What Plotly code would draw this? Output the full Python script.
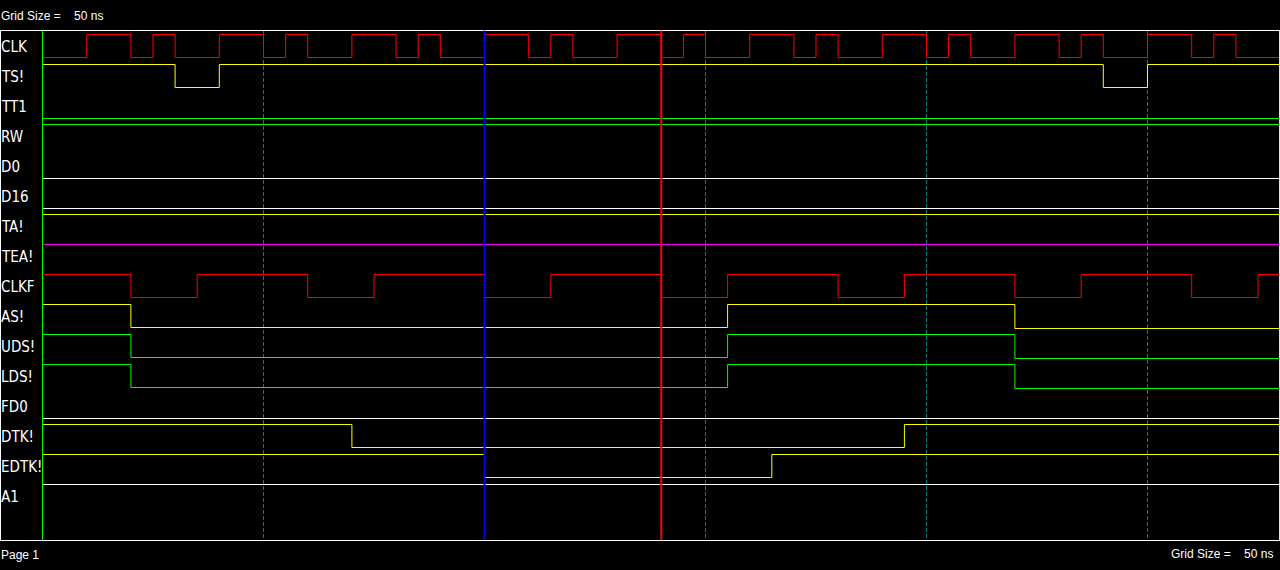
import plotly.graph_objects as go

# ---------------- data ----------------
signal_names = ["CLK", "TS!", "TT1", "RW", "D0", "D16", "TA!", "TEA!", "CLKF",
                "AS!", "UDS!", "LDS!", "FD0", "DTK!", "EDTK!", "A1"]

# change times (ns) and the state that starts at each time
# H = high, L = low, Z = low/undriven (drawn one pixel lower)
clk_t = [0, 10, 20, 25, 30, 40, 50, 55, 60, 70, 80, 85, 90, 100, 110, 115, 120, 130,
         140, 145, 150, 160, 170, 175, 180, 190, 200, 205, 210, 220, 230, 235, 240,
         250, 260, 265, 270]
clk_s = ["L", "H", "L", "H", "L", "H", "L", "H", "L", "H", "L", "H", "L", "H", "L", "H",
         "L", "H", "L", "H", "L", "H", "L", "H", "L", "H", "L", "H", "L", "H", "L", "H",
         "L", "H", "L", "H", "L"]
ts_t = [0, 30, 40, 240, 250]
ts_s = ["H", "L", "H", "L", "H"]
tt1_t, tt1_s = [0], ["Z"]
rw_t, rw_s = [0], ["H"]
d0_t, d0_s = [0], ["Z"]
d16_t, d16_s = [0], ["Z"]
ta_t, ta_s = [0], ["H"]
tea_t, tea_s = [0], ["H"]
clkf_t = [0, 20, 35, 60, 75, 100, 115, 140, 155, 180, 195, 220, 235, 260, 275]
clkf_s = ["H", "L", "H", "L", "H", "L", "H", "L", "H", "L", "H", "L", "H", "L", "H"]
as_t = [0, 20, 155, 220]
as_s = ["H", "L", "H", "Z"]
uds_t = [0, 20, 155, 220]
uds_s = ["H", "L", "H", "Z"]
lds_t = [0, 20, 155, 220]
lds_s = ["H", "L", "H", "Z"]
fd0_t, fd0_s = [0], ["Z"]
dtk_t = [0, 70, 195]
dtk_s = ["H", "L", "H"]
edtk_t = [0, 100, 165]
edtk_s = ["H", "L", "H"]
a1_t, a1_s = [0], ["H"]

signal_times = [clk_t, ts_t, tt1_t, rw_t, d0_t, d16_t, ta_t, tea_t, clkf_t,
                as_t, uds_t, lds_t, fd0_t, dtk_t, edtk_t, a1_t]
signal_states = [clk_s, ts_s, tt1_s, rw_s, d0_s, d16_s, ta_s, tea_s, clkf_s,
                 as_s, uds_s, lds_s, fd0_s, dtk_s, edtk_s, a1_s]

end_time = 280
grid_times = [50, 100, 150, 200, 250]
cursor_times = [0, 100, 140]
grid_label = "Grid Size =\u00a0\u00a0\u00a0 50 ns"
page_label = "Page 1"

# ---------------- style ----------------
W, H = 1280, 570
signal_colors = ["#ff0000", "#ffff00", "#00ff00", "#00ff00", "#ffffff", "#ffffff",
                 "#ffff00", "#ff00ff", "#ff0000", "#ffff00", "#00ff00", "#00ff00",
                 "#ffffff", "#ffff00", "#ffff00", "#ffffff"]
cursor_colors = ["#00ff00", "#0000ff", "#ff0000"]
cursor_widths = [1, 2, 2]
level_offset = {"H": 4.5 / 30, "L": 27.5 / 30, "Z": 28.5 / 30}

PX_PER_NS = 4.42
X0_PX = 42.5
t_lo = -X0_PX / PX_PER_NS
t_hi = t_lo + W / PX_PER_NS

ROW_PX = 30
TOP_PX = 30
y_top = -TOP_PX / ROW_PX
y_bot = y_top + H / ROW_PX

label_font = dict(family="Liberation Sans Narrow, DejaVu Sans Condensed, Liberation Sans, Arial",
                  size=15, color="#ffffff")
small_font = dict(family="Liberation Sans, Arial", size=12, color="#ffffff")


def px_x(px):
    return px / W


def px_y(py):
    return 1 - py / H


fig = go.Figure()

for i, (name, tt, ss, col) in enumerate(zip(signal_names, signal_times, signal_states, signal_colors)):
    xs = list(tt) + [end_time]
    ys = [i + level_offset[s] for s in ss] + [i + level_offset[ss[-1]]]
    fig.add_trace(go.Scatter(x=xs, y=ys, mode="lines", line=dict(color=col, width=1, shape="hv"),
                             name=name, hoverinfo="skip", showlegend=False))

shapes = []
# grid lines (dashed teal)
for g in grid_times:
    shapes.append(dict(type="line", xref="x", yref="paper", x0=g, x1=g,
                       y0=px_y(538), y1=px_y(31), layer="below",
                       line=dict(color="#008080", width=1, dash="4px,2px")))
# frame
shapes.append(dict(type="line", xref="paper", yref="paper", x0=0, x1=1, y0=px_y(30.5), y1=px_y(30.5),
                   line=dict(color="#ffffff", width=1)))
shapes.append(dict(type="line", xref="paper", yref="paper", x0=0, x1=1, y0=px_y(540.5), y1=px_y(540.5),
                   line=dict(color="#ffffff", width=1)))
shapes.append(dict(type="line", xref="paper", yref="paper", x0=px_x(0.5), x1=px_x(0.5),
                   y0=px_y(30), y1=px_y(541), line=dict(color="#ffffff", width=1)))
shapes.append(dict(type="line", xref="paper", yref="paper", x0=px_x(1279.5), x1=px_x(1279.5),
                   y0=px_y(30), y1=px_y(541), line=dict(color="#ffff00", width=1)))
# cursors
for c, col, w in zip(cursor_times, cursor_colors, cursor_widths):
    shapes.append(dict(type="line", xref="x", yref="paper", x0=c, x1=c,
                       y0=px_y(540), y1=px_y(30.5), line=dict(color=col, width=w)))

annotations = []
for i, name in enumerate(signal_names):
    annotations.append(dict(text=name, xref="paper", yref="y", x=0, y=i + 16.5 / 30,
                            xanchor="left", yanchor="middle", showarrow=False,
                            font=label_font, xshift=0, borderpad=0))
annotations.append(dict(text=grid_label, xref="paper", yref="paper", x=px_x(0), y=px_y(16.5),
                        xanchor="left", yanchor="middle", showarrow=False, font=small_font, borderpad=0))
annotations.append(dict(text=page_label, xref="paper", yref="paper", x=px_x(0), y=px_y(554.5),
                        xanchor="left", yanchor="middle", showarrow=False, font=small_font, borderpad=0))
annotations.append(dict(text=grid_label, xref="paper", yref="paper", x=px_x(1274), y=px_y(554),
                        xanchor="right", yanchor="middle", showarrow=False, font=small_font, borderpad=0))

fig.update_layout(
    width=W, height=H,
    margin=dict(l=0, r=0, t=0, b=0),
    paper_bgcolor="#000000", plot_bgcolor="#000000",
    xaxis=dict(range=[t_lo, t_hi], visible=False, showgrid=False, zeroline=False, fixedrange=True),
    yaxis=dict(range=[y_bot, y_top], visible=False, showgrid=False, zeroline=False, fixedrange=True),
    shapes=shapes, annotations=annotations, showlegend=False,
)

fig.write_html("out.html", config={"displayModeBar": False})
